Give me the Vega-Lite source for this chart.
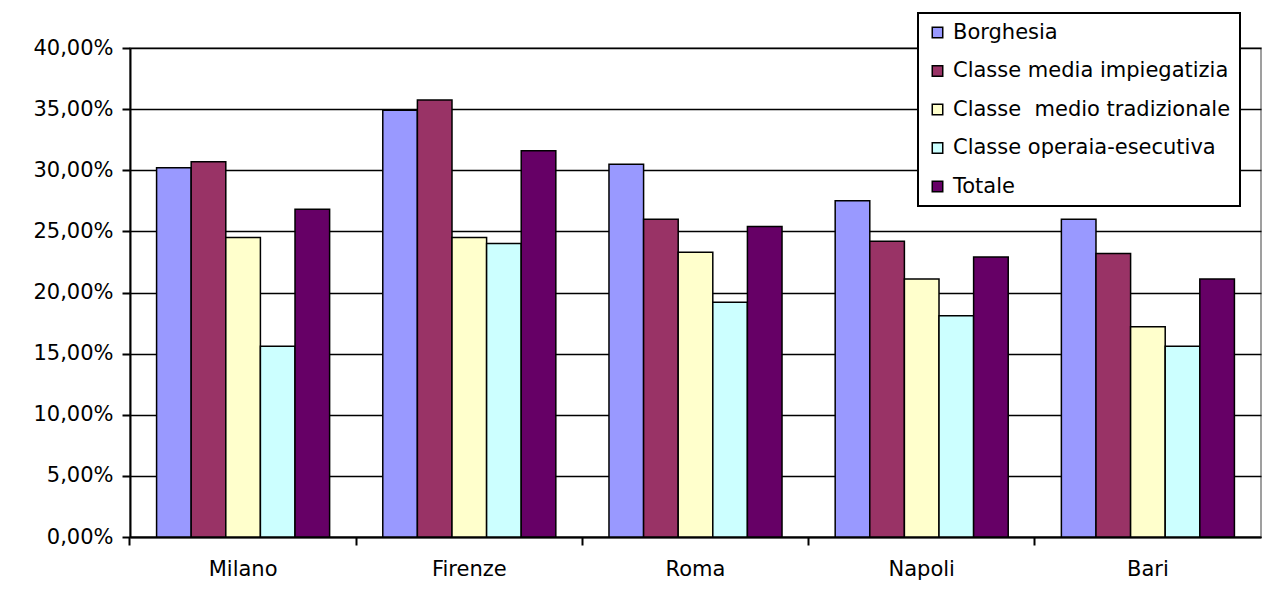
{
  "$schema": "https://vega.github.io/schema/vega-lite/v6.json",
  "width": 1131,
  "height": 489,
  "autosize": {"type": "none"},
  "padding": {"left": 130, "top": 48, "right": 1, "bottom": 67},
  "background": "white",
  "config": {
    "font": "DejaVu Sans",
    "view": {"stroke": "#808080", "strokeWidth": 1.5},
    "legend": {"strokeWidth": 2}
  },
  "data": {
    "values": [
      {"city": "Milano", "group": "Borghesia", "value": 30.2},
      {"city": "Milano", "group": "Classe media impiegatizia", "value": 30.7},
      {"city": "Milano", "group": "Classe \u00a0medio tradizionale", "value": 24.5},
      {"city": "Milano", "group": "Classe operaia-esecutiva", "value": 15.6},
      {"city": "Milano", "group": "Totale", "value": 26.8},
      {"city": "Firenze", "group": "Borghesia", "value": 34.9},
      {"city": "Firenze", "group": "Classe media impiegatizia", "value": 35.75},
      {"city": "Firenze", "group": "Classe \u00a0medio tradizionale", "value": 24.5},
      {"city": "Firenze", "group": "Classe operaia-esecutiva", "value": 24.0},
      {"city": "Firenze", "group": "Totale", "value": 31.6},
      {"city": "Roma", "group": "Borghesia", "value": 30.5},
      {"city": "Roma", "group": "Classe media impiegatizia", "value": 26.0},
      {"city": "Roma", "group": "Classe \u00a0medio tradizionale", "value": 23.3},
      {"city": "Roma", "group": "Classe operaia-esecutiva", "value": 19.2},
      {"city": "Roma", "group": "Totale", "value": 25.4},
      {"city": "Napoli", "group": "Borghesia", "value": 27.5},
      {"city": "Napoli", "group": "Classe media impiegatizia", "value": 24.2},
      {"city": "Napoli", "group": "Classe \u00a0medio tradizionale", "value": 21.1},
      {"city": "Napoli", "group": "Classe operaia-esecutiva", "value": 18.1},
      {"city": "Napoli", "group": "Totale", "value": 22.9},
      {"city": "Bari", "group": "Borghesia", "value": 26.0},
      {"city": "Bari", "group": "Classe media impiegatizia", "value": 23.2},
      {"city": "Bari", "group": "Classe \u00a0medio tradizionale", "value": 17.2},
      {"city": "Bari", "group": "Classe operaia-esecutiva", "value": 15.6},
      {"city": "Bari", "group": "Totale", "value": 21.1}
    ]
  },
  "encoding": {
    "xOffset": {
      "field": "group",
      "type": "nominal",
      "sort": ["Borghesia", "Classe media impiegatizia", "Classe \u00a0medio tradizionale", "Classe operaia-esecutiva", "Totale"],
      "scale": {"paddingInner": 0, "paddingOuter": 0}
    },
    "y": {
      "field": "value",
      "type": "quantitative",
      "scale": {"domain": [0, 40]},
      "axis": {
        "title": null,
        "values": [0, 5, 10, 15, 20, 25, 30, 35, 40],
        "labelExpr": "replace(format(datum.value, '.2f'), '.', ',') + '%'",
        "labelFontSize": 21,
        "labelColor": "black",
        "labelPadding": 9,
        "tickSize": 8,
        "tickColor": "black",
        "tickWidth": 2,
        "domainColor": "black",
        "domainWidth": 2,
        "grid": true,
        "gridColor": "black",
        "gridWidth": 1.5
      }
    }
  },
  "layer": [
    {
      "mark": {"type": "bar", "stroke": "black", "strokeWidth": 1.5},
      "encoding": {
        "x": {
          "field": "city",
          "type": "nominal",
          "sort": ["Milano", "Firenze", "Roma", "Napoli", "Bari"],
          "scale": {"paddingInner": 0.235, "paddingOuter": 0.1175},
          "axis": {
            "title": null,
            "labelAngle": 0,
            "labelFontSize": 21,
            "labelColor": "black",
            "labelPadding": 21,
            "ticks": false,
            "tickSize": 0,
            "domainColor": "black",
            "domainWidth": 2
          }
        },
        "color": {
          "field": "group",
          "type": "nominal",
          "scale": {
            "domain": ["Borghesia", "Classe media impiegatizia", "Classe \u00a0medio tradizionale", "Classe operaia-esecutiva", "Totale"],
            "range": ["#9999FF", "#993366", "#FFFFCC", "#CCFFFF", "#660066"]
          },
          "legend": {
            "title": null,
            "orient": "none",
            "legendX": 788,
            "legendY": -35,
            "padding": 9,
            "strokeColor": "black",
            "fillColor": "white",
            "symbolType": "square",
            "symbolSize": 110,
            "symbolStrokeColor": "black",
            "symbolStrokeWidth": 1.5,
            "labelFontSize": 21,
            "labelColor": "black",
            "labelLimit": 400,
            "labelOffset": 5,
            "rowPadding": 16.5
          }
        }
      }
    },
    {
      "mark": {"type": "bar", "opacity": 0},
      "encoding": {
        "x": {
          "field": "city",
          "type": "nominal",
          "sort": ["Milano", "Firenze", "Roma", "Napoli", "Bari"],
          "axis": {
            "orient": "bottom",
            "title": null,
            "labels": false,
            "domain": false,
            "ticks": true,
            "bandPosition": -0.1537,
            "tickSize": 8,
            "tickColor": "black",
            "tickWidth": 2
          }
        }
      }
    }
  ],
  "resolve": {"axis": {"x": "independent"}}
}
